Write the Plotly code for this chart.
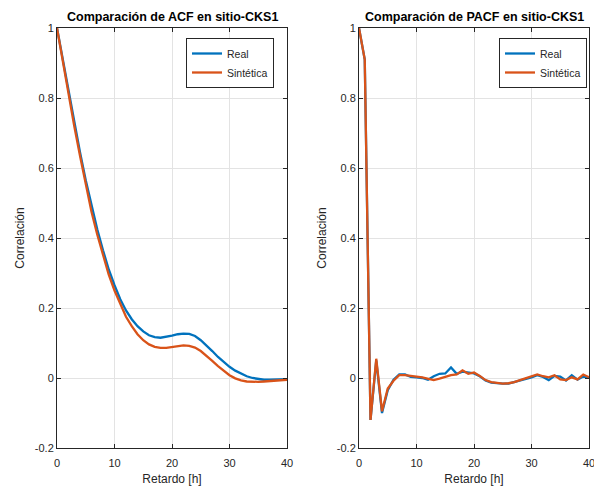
import plotly.graph_objects as go

# Lags (hours)
lags = list(range(0, 41))

# Autocorrelation function
acf_real = [1.0, 0.91, 0.82, 0.73, 0.645, 0.565, 0.49, 0.425, 0.365, 0.31,
            0.265, 0.225, 0.193, 0.168, 0.148, 0.133, 0.122, 0.117, 0.115, 0.117,
            0.121, 0.125, 0.127, 0.126, 0.12, 0.108, 0.093, 0.077, 0.06, 0.045,
            0.032, 0.021, 0.012, 0.005, 0.0, -0.003, -0.005, -0.005, -0.004, -0.004,
            -0.003]
acf_synth = [1.0, 0.905, 0.81, 0.72, 0.635, 0.55, 0.475, 0.41, 0.35, 0.295,
             0.25, 0.21, 0.175, 0.148, 0.125, 0.108, 0.096, 0.089, 0.086, 0.086,
             0.088, 0.091, 0.093, 0.092, 0.087, 0.077, 0.064, 0.049, 0.034, 0.02,
             0.008, -0.001, -0.007, -0.01, -0.011, -0.011, -0.01, -0.009, -0.008, -0.007,
             -0.005]

# Partial autocorrelation function
pacf_real = [1.0, 0.91, -0.12, 0.05, -0.10, -0.035, -0.005, 0.01, 0.01, 0.003,
             0.002, 0.0, -0.005, 0.005, 0.012, 0.013, 0.03, 0.012, 0.018, 0.016,
             0.013, 0.005, -0.007, -0.013, -0.015, -0.016, -0.016, -0.012, -0.007, -0.002,
             0.002, 0.008, 0.003, -0.006, 0.006, 0.004, -0.007, 0.008, -0.005, 0.004,
             0.001]
pacf_synth = [1.0, 0.91, -0.12, 0.055, -0.095, -0.03, -0.008, 0.008, 0.008, 0.005,
              0.004, 0.002, -0.003, -0.006, -0.002, 0.004, 0.008, 0.01, 0.022, 0.012,
              0.016, 0.006, -0.006, -0.012, -0.014, -0.016, -0.015, -0.012, -0.006, -0.001,
              0.003, 0.01, 0.005, 0.002, 0.008, -0.004, -0.006, 0.002, -0.004, 0.01,
              0.002]

x_ticks = [0, 10, 20, 30, 40]
y_ticks = [-0.2, 0, 0.2, 0.4, 0.6, 0.8, 1]
y_tick_text = ["-0.2", "0", "0.2", "0.4", "0.6", "0.8", "1"]

titles = ["Comparación de ACF en sitio-CKS1", "Comparación de PACF en sitio-CKS1"]
series_names = ["Real", "Sintética"]

BLUE = "#0072BD"
ORANGE = "#D95319"
AX = "#262626"
FONT = "Liberation Sans, Arial, sans-serif"

W, H = 594, 487
fig = go.Figure()

panels = [(acf_real, acf_synth, "x", "y", "legend"),
          (pacf_real, pacf_synth, "x2", "y2", "legend2")]
for real, synth, xa, ya, lg in panels:
    fig.add_trace(go.Scatter(x=lags, y=real, mode="lines", name=series_names[0],
                             line=dict(color=BLUE, width=2.3), xaxis=xa, yaxis=ya, legend=lg))
    fig.add_trace(go.Scatter(x=lags, y=synth, mode="lines", name=series_names[1],
                             line=dict(color=ORANGE, width=2.3), xaxis=xa, yaxis=ya, legend=lg))

ydom = [1 - 448 / H, 1 - 28 / H]
xdoms = [[57 / W, 287 / W], [359 / W, 589 / W]]

common_x = dict(range=[0, 40], tickvals=x_ticks, showgrid=True, gridcolor="#e3e3e3",
                showline=True, linecolor=AX, linewidth=1, mirror="ticks",
                ticks="inside", ticklen=4, tickcolor=AX, zeroline=False, automargin=False,
                ticklabelstandoff=5, ticklabeloverflow="allow",
                tickfont=dict(family=FONT, size=11, color=AX),
                title=dict(text="Retardo [h]", font=dict(family=FONT, size=12, color=AX), standoff=6))
common_y = dict(range=[-0.2, 1], tickvals=y_ticks, ticktext=y_tick_text, showgrid=True,
                gridcolor="#e3e3e3", showline=True, linecolor=AX, linewidth=1, mirror="ticks",
                ticks="inside", ticklen=4, tickcolor=AX, zeroline=False, automargin=False,
                tickfont=dict(family=FONT, size=11, color=AX),
                title=dict(text="Correlación", font=dict(family=FONT, size=12, color=AX), standoff=7))

legend_style = dict(yanchor="top", xanchor="right", bgcolor="white", bordercolor=AX,
                    borderwidth=1, font=dict(family=FONT, size=10.5, color=AX),
                    tracegroupgap=0, itemwidth=30)

fig.update_layout(
    width=W, height=H,
    margin=dict(l=0, r=0, t=0, b=0),
    paper_bgcolor="white", plot_bgcolor="white",
    xaxis=dict(domain=xdoms[0], anchor="y", **common_x),
    yaxis=dict(domain=ydom, anchor="x", **common_y),
    xaxis2=dict(domain=xdoms[1], anchor="y2", **common_x),
    yaxis2=dict(domain=ydom, anchor="x2", **common_y),
    legend=dict(x=274 / W, y=1 - 38 / H, **legend_style),
    legend2=dict(x=587 / W, y=1 - 38 / H, **legend_style),
    showlegend=True,
)

for i, t in enumerate(titles):
    cx = (xdoms[i][0] + xdoms[i][1]) / 2
    fig.add_annotation(text="<b>%s</b>" % t, x=cx, y=1 - 17 / H, xref="paper", yref="paper",
                       xanchor="center", yanchor="middle", showarrow=False,
                       font=dict(family=FONT, size=12.5, color="#000000"))

fig.write_html("out.html")
